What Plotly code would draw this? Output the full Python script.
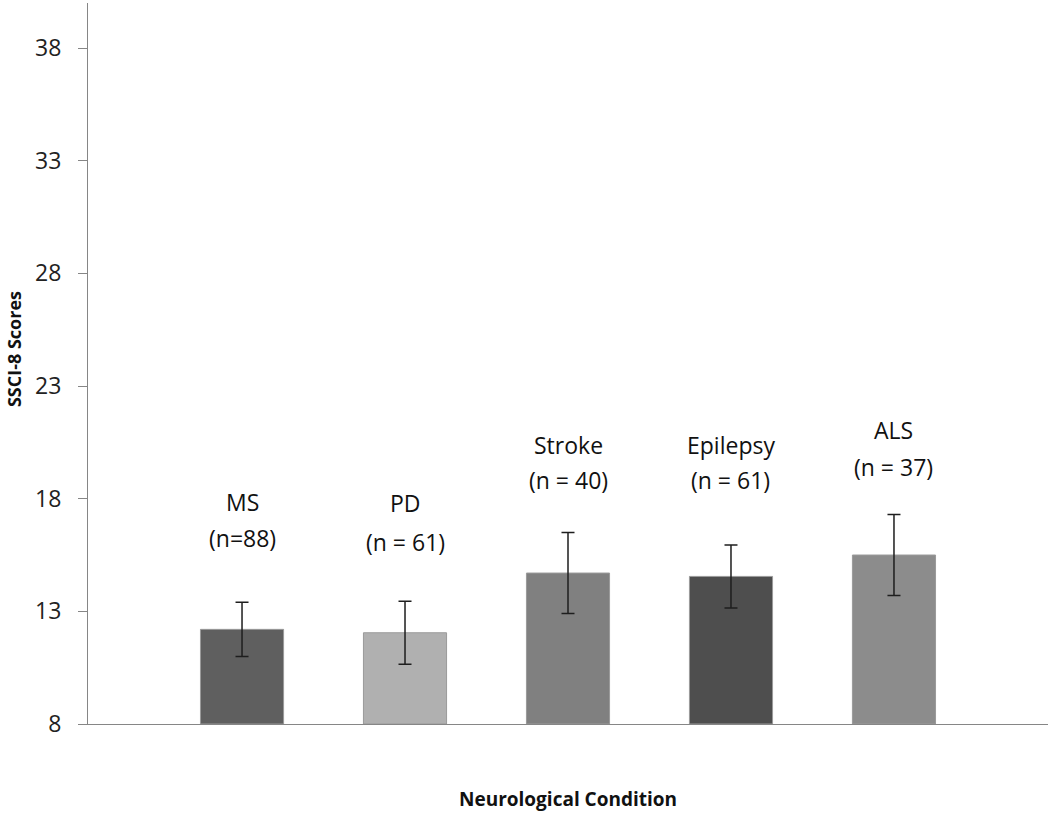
import plotly.graph_objects as go

categories = ["MS", "PD", "Stroke", "Epilepsy", "ALS"]
means = [12.2, 12.05, 14.7, 14.55, 15.5]
errors = [1.2, 1.4, 1.8, 1.4, 1.8]
bar_colors = ["#5f5f5f", "#b0b0b0", "#808080", "#4e4e4e", "#8c8c8c"]
label_line1 = ["MS", "PD", "Stroke", "Epilepsy", "ALS"]
label_line2 = ["(n=88)", "(n = 61)", "(n = 40)", "(n = 61)", "(n = 37)"]
label1_y = [17.85, 17.8, 20.4, 20.4, 21.05]
label2_y = [16.24, 16.08, 18.81, 18.81, 19.39]
y_ticks = [8, 13, 18, 23, 28, 33, 38]

FONT = "Open Sans"

fig = go.Figure()
fig.add_trace(go.Bar(
    x=categories,
    y=[m - 8 for m in means],
    base=8,
    width=0.51,
    marker=dict(color=bar_colors, line=dict(color="#9a9a9a", width=1)),
    error_y=dict(type="data", array=errors, visible=True,
                 color="#1e1e1e", thickness=1.5, width=6.5),
    showlegend=False,
    hoverinfo="skip",
))

annotations = []
for i, c in enumerate(categories):
    annotations.append(dict(x=c, y=label1_y[i], xref="x", yref="y",
                            text=label_line1[i], showarrow=False,
                            font=dict(family=FONT, size=23, color="#111111")))
    annotations.append(dict(x=c, y=label2_y[i], xref="x", yref="y",
                            text=label_line2[i], showarrow=False,
                            font=dict(family=FONT, size=23, color="#111111")))

annotations.append(dict(x=0.5, y=0, xref="paper", yref="paper", yshift=-75,
                        text="<b>Neurological Condition</b>", showarrow=False,
                        xanchor="center", yanchor="middle",
                        font=dict(family=FONT, size=19, color="#111111")))
annotations.append(dict(x=0, y=0.52, xref="paper", yref="paper", xshift=-74,
                        text="<b>SSCI-8 Scores</b>", showarrow=False, textangle=-90,
                        xanchor="center", yanchor="middle",
                        font=dict(family=FONT, size=18, color="#111111")))

fig.update_layout(
    width=1050, height=813,
    margin=dict(l=88, r=2, t=3, b=89),
    paper_bgcolor="white", plot_bgcolor="white",
    annotations=annotations,
    xaxis=dict(range=[-0.945, 4.945], showline=True, linecolor="#868686", linewidth=1.2,
               showticklabels=False, ticks="", showgrid=False, zeroline=False, fixedrange=True),
    yaxis=dict(range=[8, 40], tickvals=y_ticks, ticktext=[str(t) for t in y_ticks],
               showline=True, linecolor="#868686", linewidth=1.2,
               ticks="outside", ticklen=9, tickcolor="#868686", tickwidth=1.2,
               ticklabelstandoff=12,
               showgrid=False, zeroline=False,
               tickfont=dict(family=FONT, size=23, color="#222222"), fixedrange=True),
)

fig.write_html("out.html",
               config={"displayModeBar": False},
               post_script="document.body.style.margin='0';document.body.style.overflow='hidden';")
